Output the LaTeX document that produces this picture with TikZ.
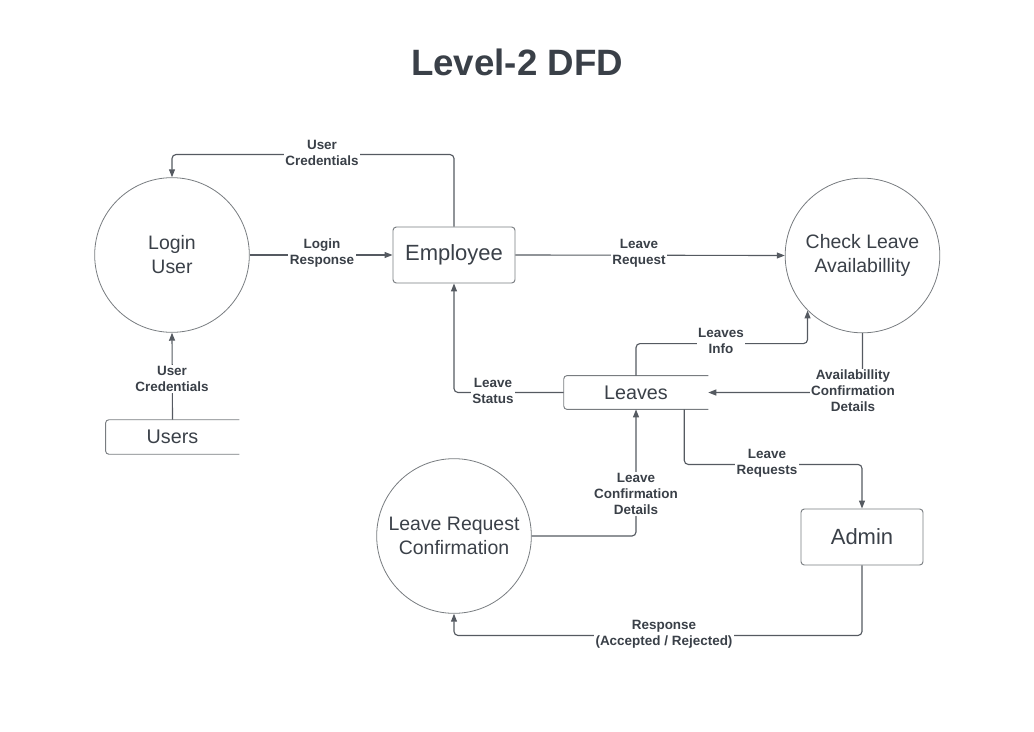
\documentclass[tikz,border=0pt]{standalone}
\usepackage{fontspec}
\setmainfont{Liberation Sans}
\usetikzlibrary{arrows.meta,calc}
\definecolor{txt}{RGB}{58,64,72}
\definecolor{ln}{RGB}{85,90,97}
\definecolor{shp}{RGB}{120,124,128}
\tikzset{
  proc/.style={circle,draw=shp,line width=0.6pt,minimum size=116pt,inner sep=0pt,align=center,text=txt,font=\fontsize{14.6}{18}\selectfont},
  ent/.style={rectangle,draw=shp,line width=0.7pt,rounded corners=2.5pt,minimum width=91.5pt,minimum height=42pt,text=txt,font=\fontsize{16.5}{20}\selectfont},
  store/.style={rectangle,inner sep=0pt,text=txt,font=\fontsize{14.8}{18}\selectfont},
  so/.style={draw=shp,line width=0.7pt,rounded corners=2.5pt},
  flow/.style={draw=ln,line width=0.85pt,rounded corners=3pt,-{Triangle[length=6pt,width=4.5pt]}},
  lbl/.style={fill=white,inner sep=1pt,align=center,text=txt,font=\bfseries\fontsize{10.1}{12}\selectfont}
}
\begin{document}
\begin{tikzpicture}[x=0.75pt,y=-0.75pt]
\useasboundingbox (0,0) rectangle (1034,731);
\node[text=txt,font=\bfseries\fontsize{27.5}{32}\selectfont] (title) at (517,62) {Level-2 DFD};
% processes
\node[proc] (login) at (172,255) {Login\\User};
\node[proc] (check) at (862.5,255.5) {Check Leave\\Availabillity};
\node[proc] (lrc) at (454,536) {Leave Request\\Confirmation};
% entities
\node[ent] (emp) at (454,255) {Employee};
\node[ent] (admin) at (862,537) {Admin};
% stores
\node[store,minimum width=100pt,minimum height=25.5pt] (users) at (172.5,437) {Users};
\node[store,minimum width=108pt,minimum height=25pt] (leaves) at (636,392.5) {Leaves};
\draw[so] (users.north east) -- (users.north west) -- (users.south west) -- (users.south east);
\draw[so] (leaves.north east) -- (leaves.north west) -- (leaves.south west) -- (leaves.south east);
% flows
\draw[flow] (emp.north) -- ++(0,-72) -| (login.north);
\draw[flow] (login.east) -- (emp.west);
\draw[flow] (emp.east) -- (check.west);
\draw[flow] (users.north) -- (login.south);
\draw[flow] (leaves.west) -| (emp.south);
\draw[flow] (leaves.north) -- ++(0,-32) -| (check.225);
\draw[flow] (check.south) |- (leaves.east);
\draw[flow] ($(leaves.south east)+(-24,0)$) -- ++(0,55) -| (admin.north);
\draw[flow] (lrc.east) -| (leaves.south);
\draw[flow] (admin.south) -- ++(0,70) -| (lrc.south);
% labels
\node[lbl] (l1) at (322,153) {User\\Credentials};
\node[lbl] (l2) at (322,253) {Login\\Response};
\node[lbl] (l3) at (639,253) {Leave\\Request};
\node[lbl] (l4) at (172,379) {User\\Credentials};
\node[lbl] (l5) at (493,391) {Leave\\Status};
\node[lbl] (l6) at (721,341) {Leaves\\Info};
\node[lbl] (l7) at (853,391) {Availabillity\\Confirmation\\Details};
\node[lbl] (l8) at (767,463) {Leave\\Requests};
\node[lbl] (l9) at (636,494) {Leave\\Confirmation\\Details};
\node[lbl] (l10) at (664,634) {Response\\(Accepted / Rejected)};
\end{tikzpicture}
\end{document}
